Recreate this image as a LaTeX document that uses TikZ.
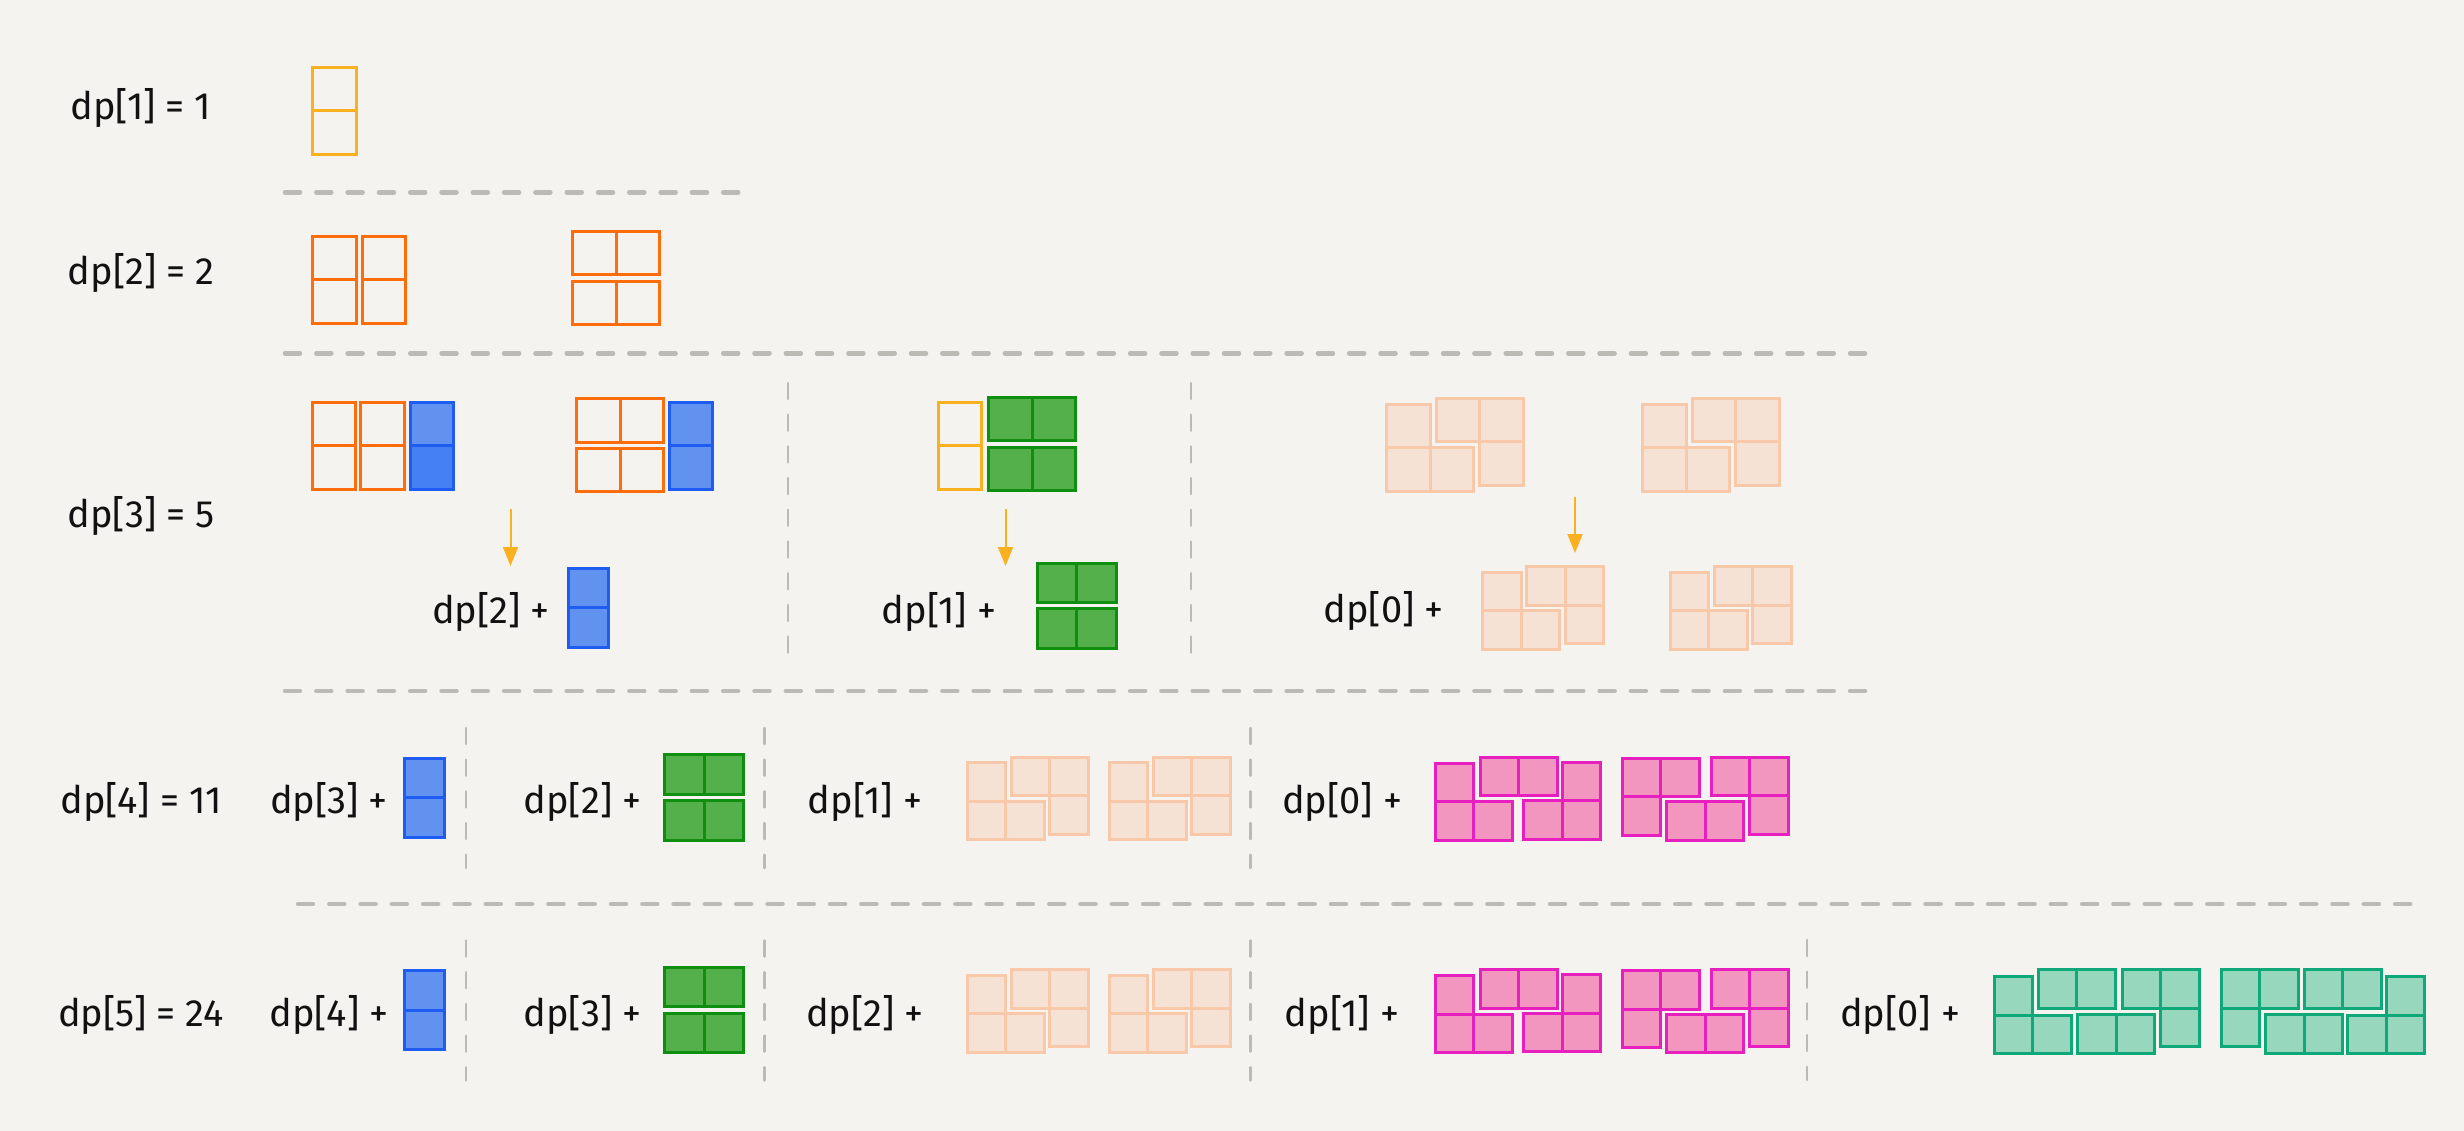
\documentclass[tikz,border=0pt]{standalone}
\usepackage{fontspec}
\setmainfont{Fira Sans}
\usetikzlibrary{arrows.meta}

\definecolor{paper}{HTML}{F4F3EF}
\definecolor{ink}{HTML}{111111}
\definecolor{ruleC}{HTML}{BBBAB5}
\definecolor{ylwC}{HTML}{F9B11F}
\definecolor{orgC}{HTML}{FF6D0A}
\definecolor{bluD}{HTML}{1F5CF2}
\definecolor{bluF}{HTML}{6292F0}
\definecolor{bluK}{HTML}{4581F3}
\definecolor{grnD}{HTML}{0F8F0F}
\definecolor{grnF}{HTML}{53B04B}
\definecolor{pchD}{HTML}{F8C8A8}
\definecolor{pchF}{HTML}{F5E2D4}
\definecolor{pnkD}{HTML}{E71FBE}
\definecolor{pnkF}{HTML}{F296C0}
\definecolor{telD}{HTML}{0FA878}
\definecolor{telF}{HTML}{96D7BD}

\newcommand{\sq}[4]{\path[#1] (#2,#3) rectangle ++(#4,#4);}
\newcommand{\vdom}[4]{\sq{#1}{#2}{#3}{#4}\sq{#1}{#2}{#3+#4}{#4}}
\newcommand{\hdom}[4]{\sq{#1}{#2}{#3}{#4}\sq{#1}{#2+#4}{#3}{#4}}
\newcommand{\pchpair}[4]{%
  \sq{pch}{#1}{#2+#4}{#3}\sq{pch}{#1}{#2+#4+#3}{#3}\sq{pch}{#1+#3}{#2+#4+#3}{#3}%
  \sq{pch}{#1+#3+#4}{#2}{#3}\sq{pch}{#1+2*#3+#4}{#2}{#3}\sq{pch}{#1+2*#3+#4}{#2+#3}{#3}}

\begin{document}
\begin{tikzpicture}[x=1pt, y={(0pt,-1pt)},
    ylwb/.style={draw=ylwC, line width=3pt},
    orgb/.style={draw=orgC, line width=3pt},
    blu/.style={draw=bluD, fill=bluF, line width=3pt},
    bluk/.style={draw=bluD, fill=bluK, line width=3pt},
    grn/.style={draw=grnD, fill=grnF, line width=3pt},
    pch/.style={draw=pchD, fill=pchF, line width=3pt},
    pnk/.style={draw=pnkD, fill=pnkF, line width=3pt},
    tel/.style={draw=telD, fill=telF, line width=3pt},
    lbl/.style={font=\fontsize{38}{44}\selectfont, text=ink, inner sep=0pt},
    hsep/.style={draw=ruleC, line width=4.5pt, line cap=round, dash pattern=on 15pt off 16.3pt},
    vsep/.style={draw=ruleC, line width=2.5pt, line cap=round, dash pattern=on 16pt off 15.7pt},
    arr/.style={draw=ylwC, line width=2pt, -{Triangle[width=15pt,length=19pt]}}]
    \useasboundingbox (0,0) rectangle (2464,1131);
    \fill[paper] (0,0) rectangle (2464,1131);

    \node[lbl] (d1) at (141,108) {dp[1] = 1};
    \node[lbl] (d2) at (141,273) {dp[2] = 2};
    \node[lbl] (d3) at (141,516) {dp[3] = 5};
    \node[lbl] (d4) at (141,802.5) {dp[4] = 11};
    \node[lbl] (d5) at (141,1015) {dp[5] = 24};

    \draw[hsep] (285,192.3) -- (747,192.3);
    \draw[hsep] (285,353.3) -- (1865,353.3);
    \draw[hsep] (285,691) -- (1867,691);
    \draw[hsep] (298,904) -- (2423,904);

    \vdom{ylwb}{312.5}{67.5}{43.5}

    \vdom{orgb}{312.5}{236.5}{43.5}
    \vdom{orgb}{362}{236.5}{43.5}
    \hdom{orgb}{572.5}{231.5}{43.5}
    \hdom{orgb}{572.5}{281.5}{43.5}

    \vdom{orgb}{312}{402}{43.5}
    \vdom{orgb}{360.5}{402}{43.5}
    \sq{blu}{410}{402}{43.5}
    \sq{bluk}{410}{445.5}{43.5}
    \hdom{orgb}{576.5}{398.5}{43.5}
    \hdom{orgb}{576.5}{448}{43.5}
    \vdom{blu}{669}{402}{43.5}
    \vdom{ylwb}{938}{402}{43.5}
    \hdom{grn}{988.5}{397}{43.5}
    \hdom{grn}{988.5}{447}{43.5}
    \pchpair{1386.5}{398}{43.5}{6}
    \pchpair{1642.5}{398}{43.5}{6}

    \coordinate (a1s) at (510.5,509);
    \coordinate (a1e) at (510.5,566);
    \coordinate (a2s) at (1005.5,509);
    \coordinate (a2e) at (1005.5,566);
    \coordinate (a3s) at (1575,497);
    \coordinate (a3e) at (1575,553);
    \draw[arr] (a1s) -- (a1e);
    \draw[arr] (a2s) -- (a2e);
    \draw[arr] (a3s) -- (a3e);

    \node[lbl] (s32) at (491,612) {dp[2] +};
    \vdom{blu}{568.5}{568}{39.5}
    \node[lbl] (s31) at (939,612) {dp[1] +};
    \hdom{grn}{1037}{563}{39.5}
    \hdom{grn}{1037}{608.5}{39.5}
    \node[lbl] (s30) at (1383.5,611) {dp[0] +};
    \pchpair{1482.5}{566.5}{38.5}{5.5}
    \pchpair{1670}{566.5}{38.5}{5.5}
    \draw[vsep] (788,383) -- (788,658);
    \draw[vsep] (1191,383) -- (1191,658);

    \foreach \dy/\na/\nb/\nc/\nd in {0/3/2/1/0, 212.5/4/3/2/1} {
      \begin{scope}[shift={(0,\dy)}]
        \node[lbl] (s\na a) at (329,802.5) {dp[\na] +};
        \node[lbl] (s\nb b) at (582.5,802.5) {dp[\nb] +};
        \node[lbl] (s\nc c) at (865,802.5) {dp[\nc] +};
        \node[lbl] (s\nd d) at (1342,802.5) {dp[\nd] +};
        \draw[vsep] (466,728) -- (466,868);
        \draw[vsep] (764.5,728) -- (764.5,868);
        \draw[vsep] (1250.5,728) -- (1250.5,868);
        \vdom{blu}{404.5}{758}{39.5}
        \hdom{grn}{664.5}{754.5}{39.5}
        \hdom{grn}{664.5}{800.5}{39.5}
        \pchpair{967}{757}{38.5}{5.5}
        \pchpair{1109}{757}{38.5}{5.5}
        \sq{pnk}{1435}{763}{38.5}\sq{pnk}{1435}{801.5}{38.5}\sq{pnk}{1473.5}{801.5}{38.5}
        \hdom{pnk}{1480}{757}{38.5}
        \sq{pnk}{1562}{762}{38.5}\sq{pnk}{1523.5}{800.5}{38.5}\sq{pnk}{1562}{800.5}{38.5}
        \sq{pnk}{1622}{758}{38.5}\sq{pnk}{1660.5}{758}{38.5}\sq{pnk}{1622}{796.5}{38.5}
        \hdom{pnk}{1666.5}{801.5}{38.5}
        \sq{pnk}{1711}{757}{38.5}\sq{pnk}{1749.5}{757}{38.5}\sq{pnk}{1749.5}{795.5}{38.5}
      \end{scope}
    }

    \draw[vsep] (1807,940) -- (1807,1080);
    \node[lbl] (s50) at (1900,1015) {dp[0] +};
    \sq{tel}{1994}{976.5}{38.5}\sq{tel}{1994}{1015}{38.5}\sq{tel}{2032.5}{1015}{38.5}
    \hdom{tel}{2038}{969.5}{38.5}
    \hdom{tel}{2077.5}{1014.5}{38.5}
    \sq{tel}{2122}{969.5}{38.5}\sq{tel}{2160.5}{969.5}{38.5}\sq{tel}{2160.5}{1008}{38.5}
    \sq{tel}{2221}{969.5}{38.5}\sq{tel}{2259.5}{969.5}{38.5}\sq{tel}{2221}{1008}{38.5}
    \hdom{tel}{2265.5}{1014.5}{38.5}
    \hdom{tel}{2304}{969.5}{38.5}
    \sq{tel}{2386}{976.5}{38.5}\sq{tel}{2386}{1015}{38.5}\sq{tel}{2347.5}{1015}{38.5}
\end{tikzpicture}
\end{document}
